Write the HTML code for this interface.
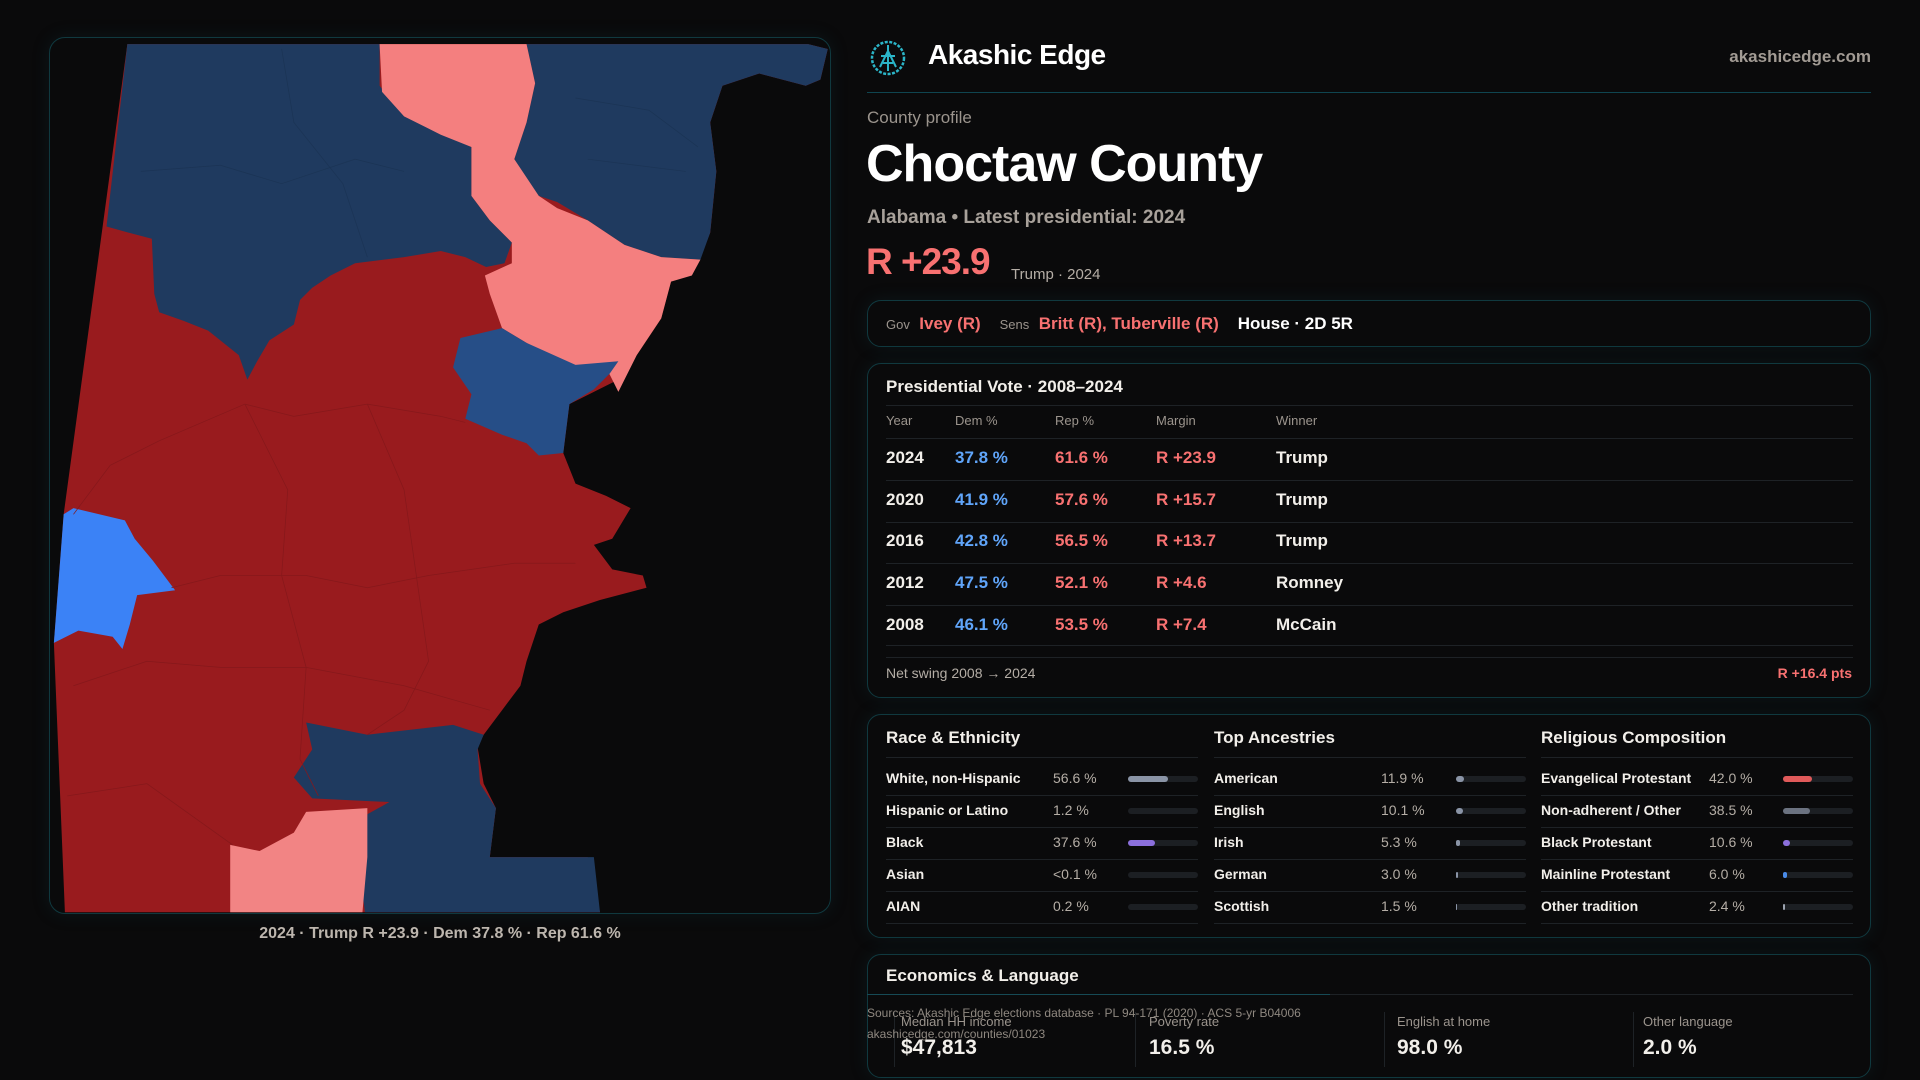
<!DOCTYPE html>
<html><head><meta charset="utf-8"><style>
*{margin:0;padding:0;box-sizing:border-box}
body{width:1920px;height:1080px;background:#0a0a0b;font-family:"Liberation Sans",sans-serif;color:#f2efea;position:relative;overflow:hidden}
.a{position:absolute;white-space:nowrap}
.box{position:absolute;border:1px solid #10393f;border-radius:14px;background:#0a0a0b;box-shadow:0 0 18px rgba(20,80,90,0.18)}
.g{color:#9b948d}
.r{color:#f87171}
.b{color:#60a5fa}
.hd{font-size:13px;color:#9b948d}
.row{font-size:17px;font-weight:bold}
.line{position:absolute;height:1px;background:#1e2226}
.bar{position:absolute;height:6px;border-radius:3px;background:#1c1f23}
.bar i{position:absolute;left:0;top:0;height:6px;border-radius:3px}
.dl{font-size:14px;font-weight:bold}
.dv{font-size:14px;color:#b5aea6}
</style></head><body>

<div class="box" style="left:49px;top:37px;width:782px;height:877px;border-radius:16px"></div>
<svg class="a" style="left:0;top:0" width="1920" height="1080" viewBox="0 0 1568 882">
<polygon fill="#991b1e" points="104,36 660,36 676,40 670,65 658,70 620,60 590,70 580,100 585,140 580,190 570,215 548,230 540,260 520,290 505,310 485,320 465,330 460,370 470,395 495,405 515,415 500,440 485,445 500,465 525,470 528,480 490,490 460,500 440,510 430,540 425,560 410,580 395,600 390,610 395,640 405,660 400,700 480,700 490,745 53,745 44,525 52,420"/>
<polygon fill="#1f3a5f" points="104,36 310,36 310,70 330,95 385,120 385,160 400,180 418,198 412,215 397,218 380,210 360,205 330,210 290,215 270,225 255,235 245,245 240,265 220,278 210,295 202,310 195,290 170,270 150,262 130,255 126,240 124,195 105,190 87,185"/>
<polygon fill="#1f3a5f" points="430,36 660,36 676,40 670,65 658,70 620,60 590,70 580,100 585,140 580,190 572,212 540,210 510,200 480,180 455,165 440,160 430,150 420,130 430,100 437,68"/>
<polygon fill="#f47f7f" points="310,36 430,36 437,68 430,100 420,130 440,160 455,170 480,180 510,200 540,210 572,212 565,225 548,230 540,260 520,290 505,320 495,300 470,300 450,292 430,280 410,268 400,240 396,225 418,215 418,198 400,180 385,160 385,120 360,110 330,95 312,75"/>
<polygon fill="#264e87" points="410,268 430,280 470,298 505,295 498,305 485,318 465,330 460,370 440,372 430,362 410,355 380,342 385,322 370,300 376,276"/>
<polygon fill="#3b82f6" points="60,415 102,425 110,440 125,458 143,482 112,486 106,510 100,530 92,520 64,515 44,525 52,420"/>
<polygon fill="#1f3a5f" points="250,590 300,600 370,592 395,600 390,612 392,640 405,660 400,700 485,700 490,745 298,745 295,720 300,665 318,655 255,652 240,635 255,612"/>
<polygon fill="#f28484" points="188,690 212,695 240,680 250,663 300,660 300,700 296,745 188,745"/>
<g fill="none" stroke="#86181b" stroke-width="0.6">
<path d="M60,420 L90,380 L130,360 L200,330 L240,340 L300,330 L360,340 L380,345"/>
<path d="M200,330 L235,400 L230,470 L250,545 L245,620 L260,650"/>
<path d="M300,330 L330,400 L340,470 L350,540 L330,580 L300,600"/>
<path d="M140,480 L180,470 L250,470 L300,480 L350,470 L420,460 L470,460"/>
<path d="M60,560 L120,540 L180,545 L250,545 L330,560 L400,580"/>
<path d="M55,650 L120,640 L190,690"/>
</g>
<g fill="none" stroke="#1b3455" stroke-width="0.6">
<path d="M115,140 L180,135 L230,150 L290,130 L330,140"/>
<path d="M230,40 L240,100 L280,150 L300,210"/>
<path d="M470,80 L530,90 L570,120"/>
<path d="M480,130 L560,140"/>
</g>
</svg>
<div class="a" style="left:49px;width:782px;top:925px;text-align:center;font-size:16px;font-weight:bold;color:#bdb6ae">2024 · Trump R +23.9 · Dem 37.8 % · Rep 61.6 %</div>

<svg class="a" style="left:869px;top:39px" width="38" height="38" viewBox="0 0 38 38">
<circle cx="19" cy="19" r="16" fill="none" stroke="#2bb5c8" stroke-width="2.5" stroke-dasharray="3 1.5"/>
<path d="M19,6 L19,32 M11,28 L19,12 L27,28 M12,17 L26,17 M14,24 L24,24" stroke="#2bb5c8" stroke-width="2" fill="none"/>
</svg>
<div class="a" style="left:928px;top:39px;font-size:28px;font-weight:bold;color:#fff;letter-spacing:-0.5px">Akashic Edge</div>
<div class="a" style="right:49px;top:47px;font-size:17px;font-weight:bold;color:#a29b94">akashicedge.com</div>
<div class="a" style="left:867px;top:92px;width:1004px;height:1px;background:#0f4550"></div>

<div class="a g" style="left:867px;top:108px;font-size:17px">County profile</div>
<div class="a" style="left:866px;top:134px;font-size:52px;font-weight:bold;color:#fff;letter-spacing:-1px">Choctaw County</div>
<div class="a" style="left:867px;top:207px;font-size:19px;font-weight:bold;color:#a8a19a">Alabama • Latest presidential: 2024</div>
<div class="a r" style="left:866px;top:241px;font-size:37px;font-weight:bold;letter-spacing:-1px">R +23.9</div>
<div class="a" style="left:1011px;top:266px;font-size:15px;color:#b5aea6">Trump · 2024</div>

<div class="box" style="left:867px;top:300px;width:1004px;height:47px"></div>
<div class="a" style="left:886px;top:314px;font-size:17px;font-weight:bold"><span class="g" style="font-size:13px;font-weight:normal">Gov</span>&nbsp; <span class="r">Ivey (R)</span>&nbsp;&nbsp;&nbsp; <span class="g" style="font-size:13px;font-weight:normal">Sens</span>&nbsp; <span class="r">Britt (R), Tuberville (R)</span>&nbsp;&nbsp;&nbsp; <span style="color:#fff">House · 2D 5R</span></div>

<div class="box" style="left:867px;top:363px;width:1004px;height:335px"></div>
<div class="a" style="left:886px;top:377px;font-size:17px;font-weight:bold">Presidential Vote · 2008–2024</div>
<div class="line" style="left:886px;top:405px;width:967px"></div>
<div class="a hd" style="left:886px;top:413px">Year</div>
<div class="a hd" style="left:955px;top:413px">Dem %</div>
<div class="a hd" style="left:1055px;top:413px">Rep %</div>
<div class="a hd" style="left:1156px;top:413px">Margin</div>
<div class="a hd" style="left:1276px;top:413px">Winner</div>
<div class="line" style="left:886px;top:438px;width:967px"></div>
<div class="a row" style="left:886px;top:448px">2024</div><div class="a row b" style="left:955px;top:448px">37.8 %</div><div class="a row r" style="left:1055px;top:448px">61.6 %</div><div class="a row r" style="left:1156px;top:448px">R +23.9</div><div class="a row" style="left:1276px;top:448px">Trump</div>
<div class="line" style="left:886px;top:480px;width:967px"></div>
<div class="a row" style="left:886px;top:490px">2020</div><div class="a row b" style="left:955px;top:490px">41.9 %</div><div class="a row r" style="left:1055px;top:490px">57.6 %</div><div class="a row r" style="left:1156px;top:490px">R +15.7</div><div class="a row" style="left:1276px;top:490px">Trump</div>
<div class="line" style="left:886px;top:522px;width:967px"></div>
<div class="a row" style="left:886px;top:531px">2016</div><div class="a row b" style="left:955px;top:531px">42.8 %</div><div class="a row r" style="left:1055px;top:531px">56.5 %</div><div class="a row r" style="left:1156px;top:531px">R +13.7</div><div class="a row" style="left:1276px;top:531px">Trump</div>
<div class="line" style="left:886px;top:563px;width:967px"></div>
<div class="a row" style="left:886px;top:573px">2012</div><div class="a row b" style="left:955px;top:573px">47.5 %</div><div class="a row r" style="left:1055px;top:573px">52.1 %</div><div class="a row r" style="left:1156px;top:573px">R +4.6</div><div class="a row" style="left:1276px;top:573px">Romney</div>
<div class="line" style="left:886px;top:605px;width:967px"></div>
<div class="a row" style="left:886px;top:615px">2008</div><div class="a row b" style="left:955px;top:615px">46.1 %</div><div class="a row r" style="left:1055px;top:615px">53.5 %</div><div class="a row r" style="left:1156px;top:615px">R +7.4</div><div class="a row" style="left:1276px;top:615px">McCain</div>
<div class="line" style="left:886px;top:645px;width:967px"></div>
<div class="line" style="left:886px;top:657px;width:967px"></div>
<div class="a" style="left:886px;top:665px;font-size:14px;color:#b5aea6">Net swing 2008 → 2024</div>
<div class="a r" style="right:68px;top:665px;font-size:14px;font-weight:bold">R +16.4 pts</div>

<div class="box" style="left:867px;top:714px;width:1004px;height:224px"></div>
<div class="a" style="left:886px;top:728px;font-size:17px;font-weight:bold">Race &amp; Ethnicity</div>
<div class="a" style="left:1214px;top:728px;font-size:17px;font-weight:bold">Top Ancestries</div>
<div class="a" style="left:1541px;top:728px;font-size:17px;font-weight:bold">Religious Composition</div>
<div class="line" style="left:886px;top:757px;width:312px"></div>
<div class="line" style="left:1214px;top:757px;width:312px"></div>
<div class="line" style="left:1541px;top:757px;width:312px"></div>

<div class="a dl" style="left:886px;top:770px">White, non-Hispanic</div><div class="a dv" style="left:1053px;top:770px">56.6 %</div><div class="bar" style="left:1128px;top:776px;width:70px"><i style="width:40px;background:#8a94a6"></i></div>
<div class="a dl" style="left:886px;top:802px">Hispanic or Latino</div><div class="a dv" style="left:1053px;top:802px">1.2 %</div><div class="bar" style="left:1128px;top:808px;width:70px"></div>
<div class="a dl" style="left:886px;top:834px">Black</div><div class="a dv" style="left:1053px;top:834px">37.6 %</div><div class="bar" style="left:1128px;top:840px;width:70px"><i style="width:27px;background:#8b6fdc"></i></div>
<div class="a dl" style="left:886px;top:866px">Asian</div><div class="a dv" style="left:1053px;top:866px">&lt;0.1 %</div><div class="bar" style="left:1128px;top:872px;width:70px"></div>
<div class="a dl" style="left:886px;top:898px">AIAN</div><div class="a dv" style="left:1053px;top:898px">0.2 %</div><div class="bar" style="left:1128px;top:904px;width:70px"></div>

<div class="a dl" style="left:1214px;top:770px">American</div><div class="a dv" style="left:1381px;top:770px">11.9 %</div><div class="bar" style="left:1456px;top:776px;width:70px"><i style="width:8px;background:#8a94a6"></i></div>
<div class="a dl" style="left:1214px;top:802px">English</div><div class="a dv" style="left:1381px;top:802px">10.1 %</div><div class="bar" style="left:1456px;top:808px;width:70px"><i style="width:7px;background:#8a94a6"></i></div>
<div class="a dl" style="left:1214px;top:834px">Irish</div><div class="a dv" style="left:1381px;top:834px">5.3 %</div><div class="bar" style="left:1456px;top:840px;width:70px"><i style="width:4px;background:#8a94a6"></i></div>
<div class="a dl" style="left:1214px;top:866px">German</div><div class="a dv" style="left:1381px;top:866px">3.0 %</div><div class="bar" style="left:1456px;top:872px;width:70px"><i style="width:2px;background:#8a94a6"></i></div>
<div class="a dl" style="left:1214px;top:898px">Scottish</div><div class="a dv" style="left:1381px;top:898px">1.5 %</div><div class="bar" style="left:1456px;top:904px;width:70px"><i style="width:1px;background:#8a94a6"></i></div>

<div class="a dl" style="left:1541px;top:770px">Evangelical Protestant</div><div class="a dv" style="left:1709px;top:770px">42.0 %</div><div class="bar" style="left:1783px;top:776px;width:70px"><i style="width:29px;background:#e05a5a"></i></div>
<div class="a dl" style="left:1541px;top:802px">Non-adherent / Other</div><div class="a dv" style="left:1709px;top:802px">38.5 %</div><div class="bar" style="left:1783px;top:808px;width:70px"><i style="width:27px;background:#6b7280"></i></div>
<div class="a dl" style="left:1541px;top:834px">Black Protestant</div><div class="a dv" style="left:1709px;top:834px">10.6 %</div><div class="bar" style="left:1783px;top:840px;width:70px"><i style="width:7px;background:#8b6fdc"></i></div>
<div class="a dl" style="left:1541px;top:866px">Mainline Protestant</div><div class="a dv" style="left:1709px;top:866px">6.0 %</div><div class="bar" style="left:1783px;top:872px;width:70px"><i style="width:4px;background:#4a8be8"></i></div>
<div class="a dl" style="left:1541px;top:898px">Other tradition</div><div class="a dv" style="left:1709px;top:898px">2.4 %</div><div class="bar" style="left:1783px;top:904px;width:70px"><i style="width:2px;background:#9ca3af"></i></div>
<div class="line" style="left:886px;top:795px;width:312px"></div><div class="line" style="left:886px;top:827px;width:312px"></div><div class="line" style="left:886px;top:859px;width:312px"></div><div class="line" style="left:886px;top:891px;width:312px"></div><div class="line" style="left:886px;top:923px;width:312px"></div>
<div class="line" style="left:1214px;top:795px;width:312px"></div><div class="line" style="left:1214px;top:827px;width:312px"></div><div class="line" style="left:1214px;top:859px;width:312px"></div><div class="line" style="left:1214px;top:891px;width:312px"></div><div class="line" style="left:1214px;top:923px;width:312px"></div>
<div class="line" style="left:1541px;top:795px;width:312px"></div><div class="line" style="left:1541px;top:827px;width:312px"></div><div class="line" style="left:1541px;top:859px;width:312px"></div><div class="line" style="left:1541px;top:891px;width:312px"></div><div class="line" style="left:1541px;top:923px;width:312px"></div>

<div class="box" style="left:867px;top:954px;width:1004px;height:124px"></div>
<div class="a" style="left:886px;top:966px;font-size:17px;font-weight:bold">Economics &amp; Language</div>
<div class="line" style="left:886px;top:994px;width:967px"></div>
<div class="a" style="left:867px;top:994px;width:463px;height:1px;background:#164a55"></div>
<div class="a" style="left:894px;top:1012px;width:1px;height:55px;background:#1e2226"></div>
<div class="a" style="left:1135px;top:1012px;width:1px;height:55px;background:#1e2226"></div>
<div class="a" style="left:1384px;top:1012px;width:1px;height:55px;background:#1e2226"></div>
<div class="a" style="left:1633px;top:1012px;width:1px;height:55px;background:#1e2226"></div>
<div class="a g" style="left:901px;top:1014px;font-size:13px">Median HH income</div>
<div class="a g" style="left:1149px;top:1014px;font-size:13px">Poverty rate</div>
<div class="a g" style="left:1397px;top:1014px;font-size:13px">English at home</div>
<div class="a g" style="left:1643px;top:1014px;font-size:13px">Other language</div>
<div class="a" style="left:901px;top:1036px;font-size:21px;font-weight:bold">$47,813</div>
<div class="a" style="left:1149px;top:1036px;font-size:21px;font-weight:bold">16.5 %</div>
<div class="a" style="left:1397px;top:1036px;font-size:21px;font-weight:bold">98.0 %</div>
<div class="a" style="left:1643px;top:1036px;font-size:21px;font-weight:bold">2.0 %</div>
<div class="a" style="left:867px;top:1006px;font-size:12px;color:#8f8880">Sources: Akashic Edge elections database · PL 94-171 (2020) · ACS 5-yr B04006</div>
<div class="a" style="left:867px;top:1027px;font-size:12px;color:#8f8880">akashicedge.com/counties/01023</div>
</body></html>
